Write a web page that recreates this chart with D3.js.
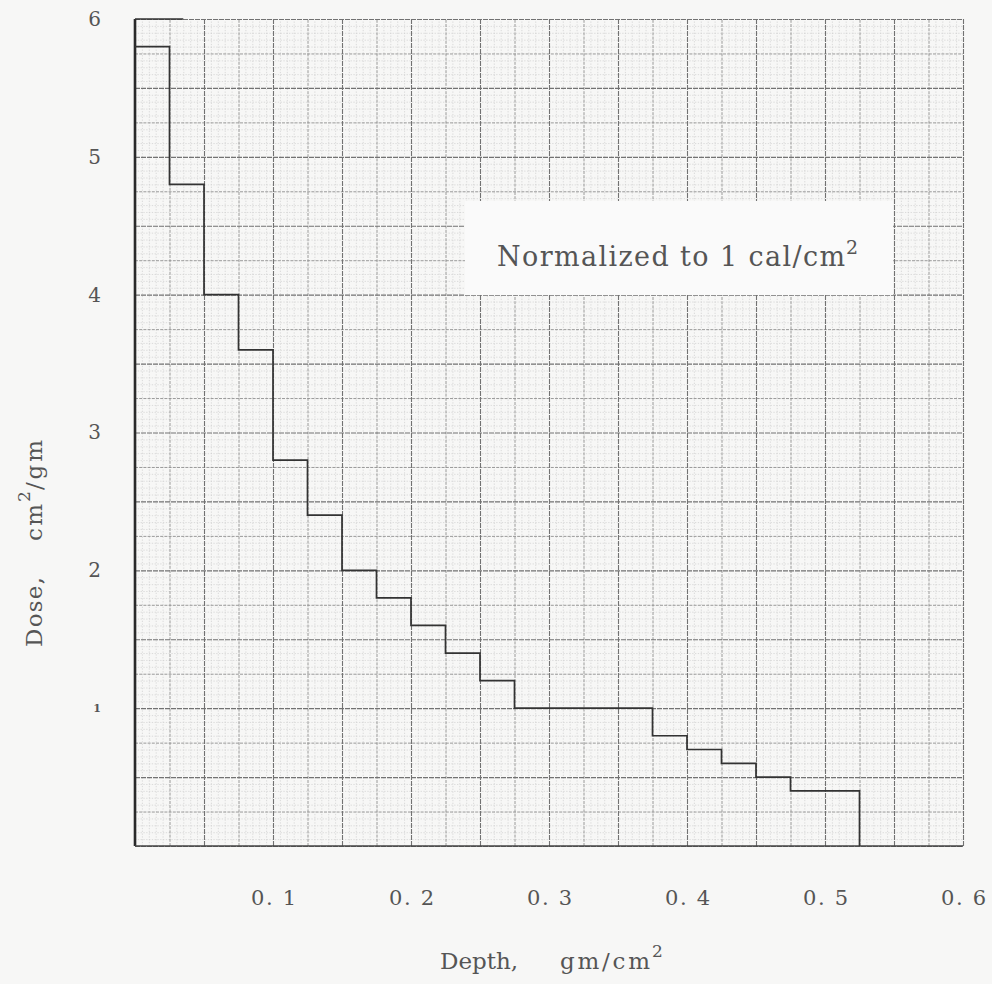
<!DOCTYPE html>
<html>
<head>
<meta charset="utf-8">
<script src="https://cdn.jsdelivr.net/npm/d3@7"></script>
<style>
  html, body { margin: 0; padding: 0; background: #f7f7f6; }
  svg { display: block; }
  text { font-family: "DejaVu Serif", "Liberation Serif", serif; fill: #555; }
</style>
</head>
<body>
<svg id="chart" width="992" height="984"></svg>
<script>
// Depth bin edges (gm/cm^2) and the dose in each bin (cm^2/gm)
const binEdges = [0, 0.025, 0.05, 0.075, 0.1, 0.125, 0.15, 0.175, 0.2, 0.225,
                  0.25, 0.275, 0.375, 0.4, 0.425, 0.45, 0.475, 0.525];
const doseValues = [5.8, 4.8, 4.0, 3.6, 2.8, 2.4, 2.0, 1.8, 1.6, 1.4,
                    1.2, 1.0, 0.8, 0.7, 0.6, 0.5, 0.4];

// Axis ticks and labels
const xTickValues = [0.1, 0.2, 0.3, 0.4, 0.5, 0.6];
const xTickLabels = ["0. 1", "0. 2", "0. 3", "0. 4", "0. 5", "0. 6"];
const yTickValues = [1, 2, 3, 4, 5, 6];
const yTickLabels = ["1", "2", "3", "4", "5", "6"];

const xDomain = [0, 0.6];
const yDomain = [0, 6];

const svg = d3.select("#chart");
const plotL = 135, plotR = 963, plotT = 19, plotB = 846;

const x = d3.scaleLinear().domain(xDomain).range([plotL, plotR]);
const y = d3.scaleLinear().domain(yDomain).range([plotB, plotT]);

// Graph-paper rulings: fine every 0.005 / 0.05, medium every 5th, heavy every 10th
const xGrid = d3.range(0, 121).map(i => ({ v: i * 0.005, k: i % 10 === 0 ? "heavy" : i % 5 === 0 ? "mid" : "fine" }));
const yGrid = d3.range(0, 121).map(i => ({ v: i * 0.05, k: i % 10 === 0 ? "heavy" : i % 5 === 0 ? "mid" : "fine" }));

const gridStyle = {
  fine:  { stroke: "#cfcfcf", width: 0.7, dash: "1.3,1.5" },
  mid:   { stroke: "#8e8e8e", width: 0.9, dash: "3,1.2" },
  heavy: { stroke: "#727272", width: 1.1, dash: "5,1" }
};

const grid = svg.append("g").attr("class", "grid");
["fine", "mid", "heavy"].forEach(kind => {
  const s = gridStyle[kind];
  grid.append("g")
    .attr("transform", `translate(0,${plotB})`)
    .call(d3.axisBottom(x)
      .tickValues(xGrid.filter(d => d.k === kind).map(d => d.v))
      .tickSize(-(plotB - plotT))
      .tickFormat(""))
    .call(g => g.select(".domain").remove())
    .call(g => g.selectAll("line")
      .attr("stroke", s.stroke).attr("stroke-width", s.width)
      .attr("stroke-dasharray", s.dash));
  grid.append("g")
    .attr("transform", `translate(${plotL},0)`)
    .call(d3.axisLeft(y)
      .tickValues(yGrid.filter(d => d.k === kind).map(d => d.v))
      .tickSize(-(plotR - plotL))
      .tickFormat(""))
    .call(g => g.select(".domain").remove())
    .call(g => g.selectAll("line")
      .attr("stroke", s.stroke).attr("stroke-width", s.width)
      .attr("stroke-dasharray", s.dash));
});

// Frame: heavy left axis, dark bottom axis, short dark start of the top edge
svg.append("line")
  .attr("x1", x(0)).attr("x2", x(0)).attr("y1", y(6)).attr("y2", y(0))
  .attr("stroke", "#2a2a2a").attr("stroke-width", 2.6);
svg.append("line")
  .attr("x1", x(0)).attr("x2", x(0.6)).attr("y1", y(0)).attr("y2", y(0))
  .attr("stroke", "#444").attr("stroke-width", 1.6);
svg.append("line")
  .attr("x1", x(0)).attr("x2", x(0.035)).attr("y1", y(6)).attr("y2", y(6))
  .attr("stroke", "#333").attr("stroke-width", 1.6);

// Label panel pasted over the grid
const panel = svg.append("g");
panel.append("rect")
  .attr("x", 465).attr("y", 201).attr("width", 428).attr("height", 94)
  .attr("fill", "#fafafa");
panel.append("text")
  .attr("x", 497).attr("y", 266)
  .attr("font-size", 27).attr("fill", "#4a4a4a")
  .attr("textLength", 348).attr("lengthAdjust", "spacing")
  .text("Normalized to 1 cal/cm");
panel.append("text")
  .attr("x", 846).attr("y", 254)
  .attr("font-size", 19).attr("fill", "#4a4a4a")
  .text("2");

// Histogram outline of dose vs depth
const stepPts = [];
doseValues.forEach((v, i) => {
  stepPts.push([binEdges[i], v]);
  stepPts.push([binEdges[i + 1], v]);
});
stepPts.push([binEdges[binEdges.length - 1], 0]);
const line = d3.line().x(d => x(d[0])).y(d => y(d[1]));
svg.append("path")
  .datum(stepPts)
  .attr("d", line)
  .attr("fill", "none")
  .attr("stroke", "#333")
  .attr("stroke-width", 1.7);

// Tick labels
const xAxis = svg.append("g")
  .attr("transform", `translate(0,${plotB})`)
  .call(d3.axisBottom(x).tickValues(xTickValues).tickSize(0).tickPadding(44)
    .tickFormat((d, i) => xTickLabels[i]));
xAxis.select(".domain").remove();
xAxis.selectAll("text")
  .attr("font-family", "DejaVu Serif").attr("font-size", 21)
  .attr("textLength", 45).attr("lengthAdjust", "spacing")
  .attr("fill", "#555");

const yAxis = svg.append("g")
  .attr("transform", `translate(${plotL},0)`)
  .call(d3.axisLeft(y).tickValues(yTickValues).tickSize(0).tickPadding(34)
    .tickFormat((d, i) => yTickLabels[i]));
yAxis.select(".domain").remove();
yAxis.selectAll("text")
  .attr("font-family", "DejaVu Serif").attr("font-size", d => d === 1 ? 11 : 20)
  .attr("font-weight", d => d === 1 ? "bold" : null)
  .attr("fill", "#555");

// Axis titles (typewritten, widely spaced)
const xTitle = svg.append("g");
xTitle.append("text").attr("x", 440).attr("y", 969).attr("font-size", 23).attr("fill", "#666")
  .attr("textLength", 78).attr("lengthAdjust", "spacing").text("Depth,");
xTitle.append("text").attr("x", 560).attr("y", 969).attr("font-size", 23).attr("fill", "#666")
  .attr("textLength", 90).attr("lengthAdjust", "spacing").text("gm/cm");
xTitle.append("text").attr("x", 652).attr("y", 957).attr("font-size", 17).attr("fill", "#666")
  .text("2");

const yTitle = svg.append("g").attr("transform", "translate(42,647) rotate(-90)");
yTitle.append("text").attr("x", 0).attr("y", 0).attr("font-size", 23).attr("fill", "#666")
  .attr("textLength", 70).attr("lengthAdjust", "spacing").text("Dose,");
yTitle.append("text").attr("x", 106).attr("y", 0).attr("font-size", 23).attr("fill", "#666")
  .attr("textLength", 37).attr("lengthAdjust", "spacing").text("cm");
yTitle.append("text").attr("x", 145).attr("y", -12).attr("font-size", 17).attr("fill", "#666")
  .text("2");
yTitle.append("text").attr("x", 157).attr("y", 0).attr("font-size", 23).attr("fill", "#666")
  .attr("textLength", 50).attr("lengthAdjust", "spacing").text("/gm");
</script>
</body>
</html>
